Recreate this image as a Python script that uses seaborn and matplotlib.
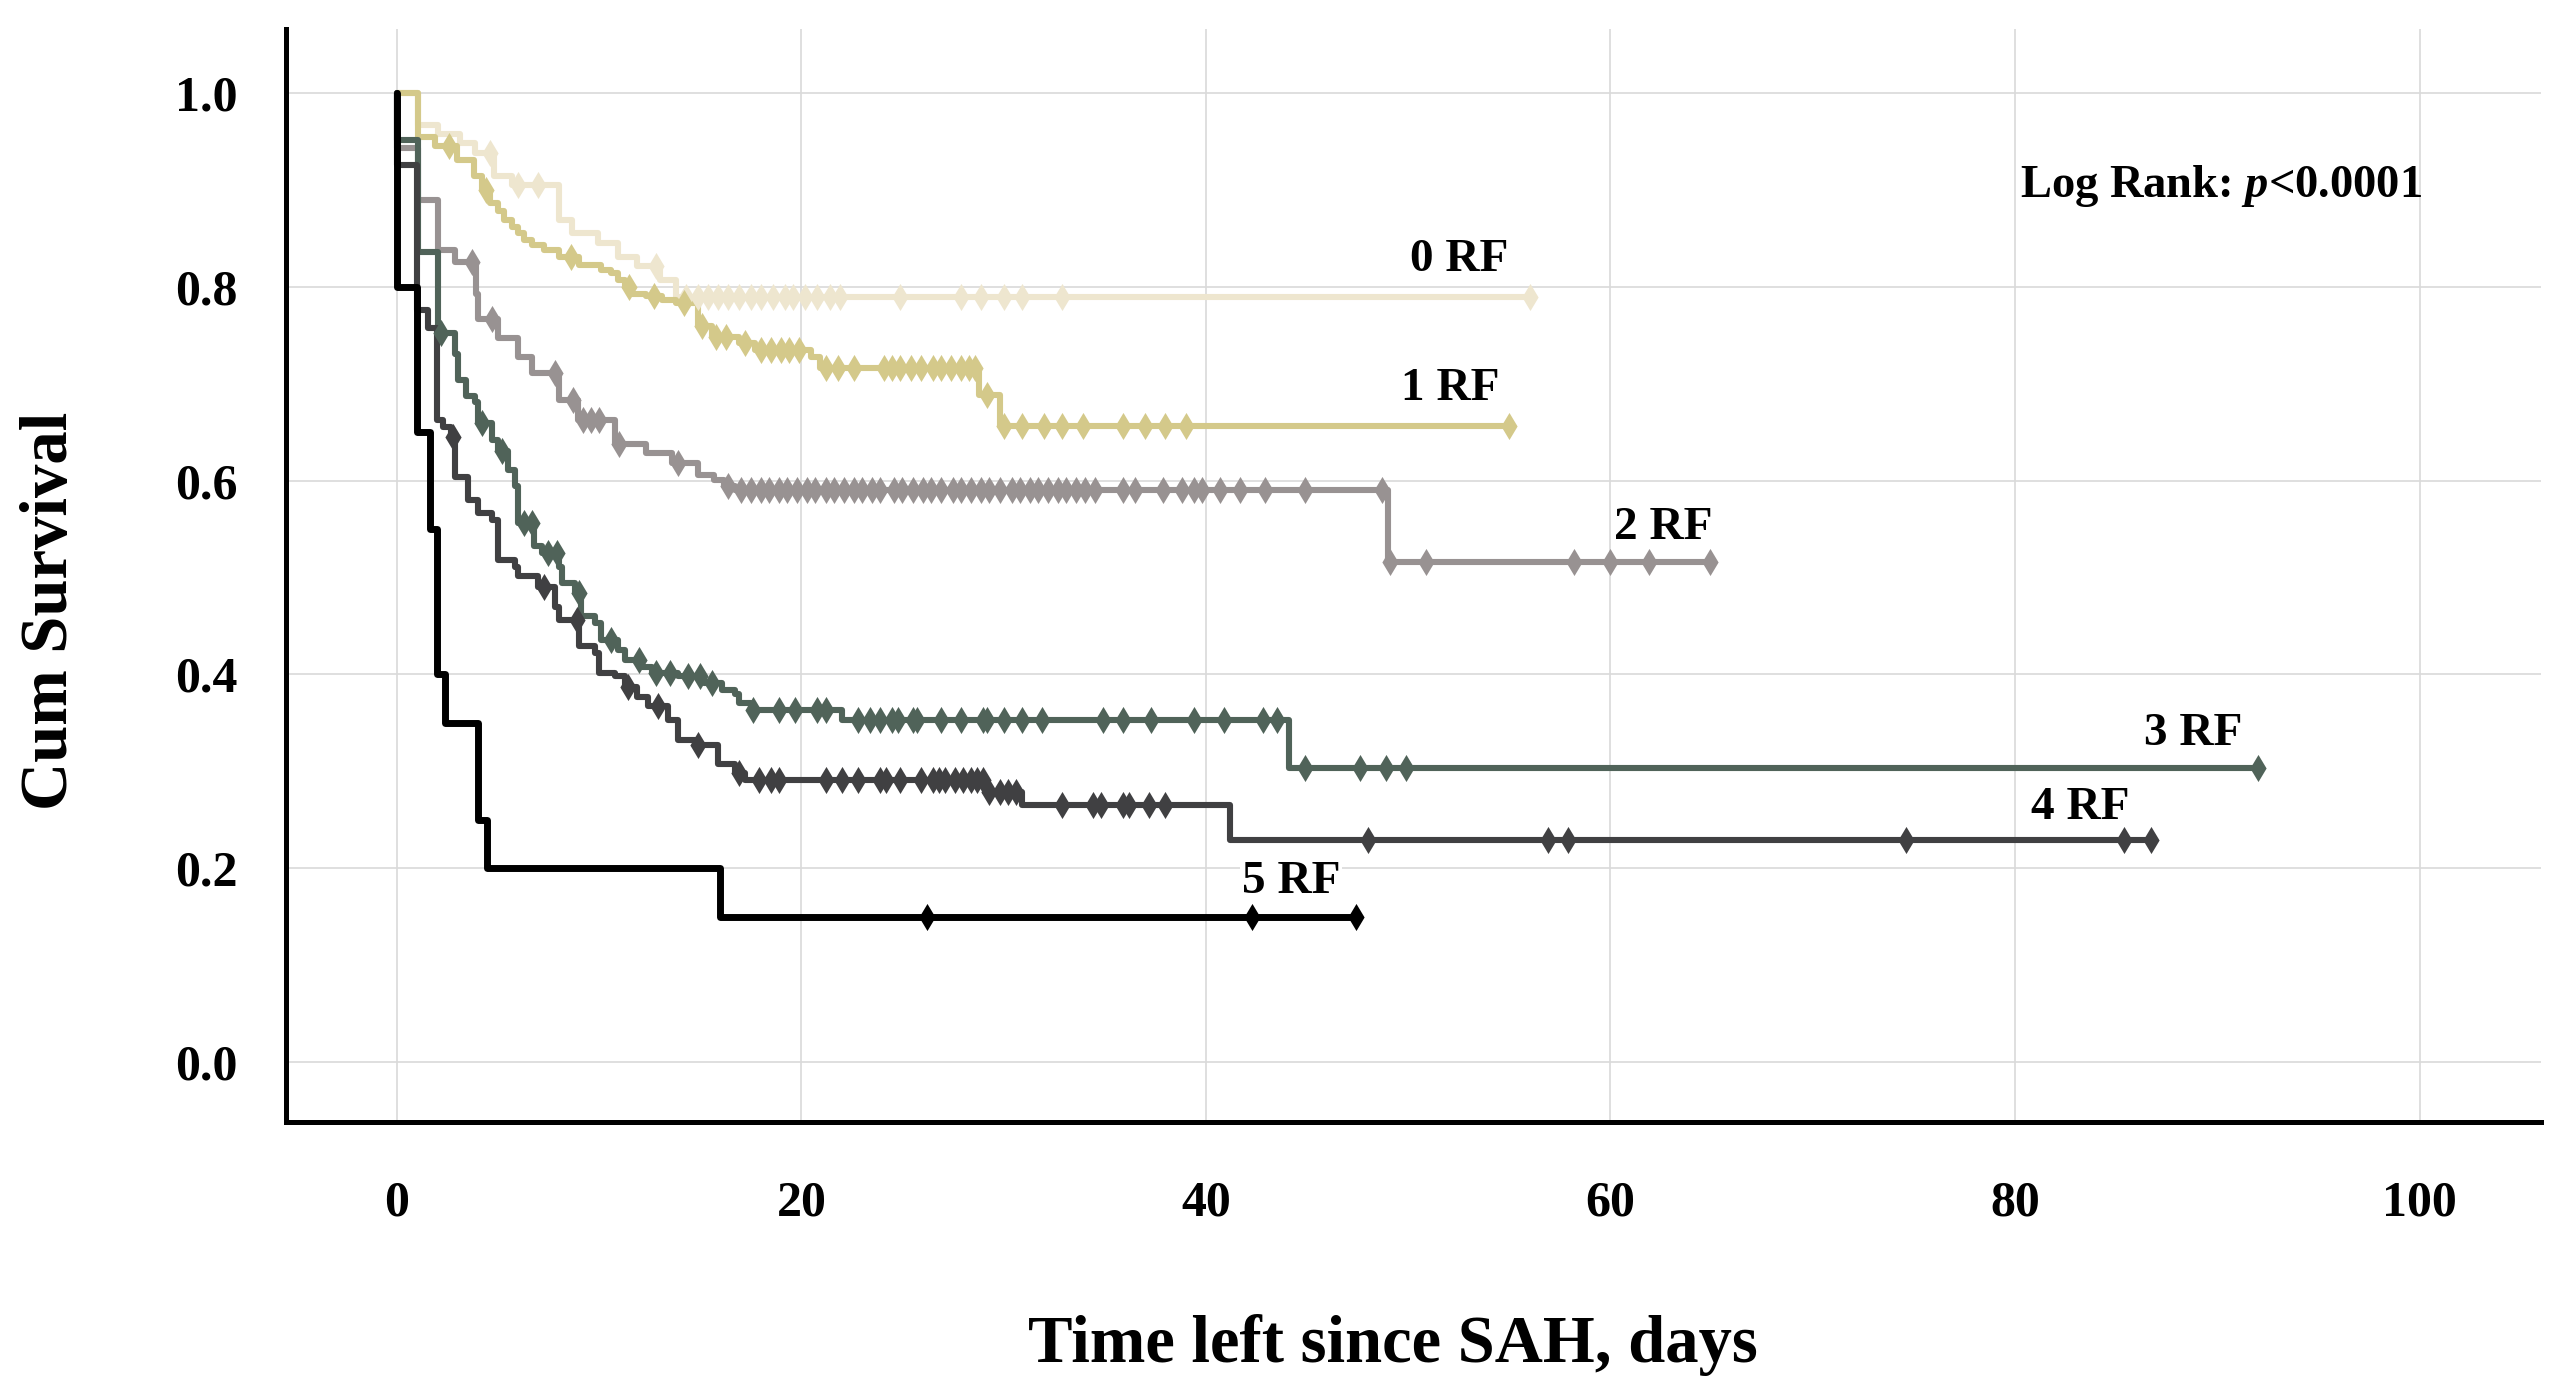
import numpy as np
import pandas as pd
import matplotlib
matplotlib.use("Agg")
import matplotlib.pyplot as plt
import seaborn as sns

# -------------------- DATA --------------------
groups = ["0 RF", "1 RF", "2 RF", "3 RF", "4 RF", "5 RF"]

# event times (days) and survival after each step
t0 = [0, 1.07, 2.06, 3.13, 3.87, 4.8, 5.7, 8.0, 8.65, 9.97, 10.96, 11.9, 13.0, 13.8]
s0 = [1.0, 0.967, 0.958, 0.948, 0.938, 0.914, 0.905, 0.869, 0.855, 0.845, 0.831, 0.821, 0.807, 0.789]
c0 = [4.6, 6.0, 7.0, 12.8, 14.3, 14.9, 15.4, 15.9, 16.4, 16.9, 17.5, 18.0, 18.6, 19.2, 19.6,
      20.2, 20.8, 21.4, 21.9, 24.9, 27.9, 28.9, 30.0, 30.9, 32.9, 56.0]

t1 = [0, 1.07, 1.9, 2.97, 3.8, 4.2, 4.6, 5.0, 5.3, 5.7, 6.0, 6.3, 6.7, 7.3, 8.0, 9.0, 10.1,
      10.6, 10.95, 11.3, 11.6, 12.3, 13.1, 13.8, 14.9, 15.6, 16.9, 17.7, 20.5, 20.9, 28.8, 29.8]
s1 = [1.0, 0.955, 0.945, 0.931, 0.914, 0.900, 0.886, 0.878, 0.869, 0.862, 0.855, 0.848, 0.843,
      0.838, 0.831, 0.822, 0.817, 0.814, 0.807, 0.800, 0.793, 0.790, 0.786, 0.783, 0.759, 0.748,
      0.742, 0.735, 0.728, 0.716, 0.688, 0.656]
c1 = [2.6, 4.4, 8.6, 11.5, 12.7, 14.2, 15.1, 15.8, 16.3, 17.2, 18.0, 18.5, 19.0, 19.4, 19.9,
      21.2, 21.8, 22.6, 24.1, 24.5, 24.9, 25.4, 25.9, 26.5, 26.9, 27.4, 27.9, 28.3, 28.6, 29.2,
      30.0, 30.9, 32.0, 32.9, 33.9, 35.9, 37.0, 38.0, 39.0, 55.0]

t2 = [0, 0, 1.07, 2.06, 2.9, 3.9, 4.04, 5.02, 6.0, 6.67, 8.0, 8.98, 10.8, 12.3, 13.6, 14.9,
      15.7, 16.2, 16.7, 49.0]
s2 = [1.0, 0.943, 0.890, 0.838, 0.826, 0.793, 0.767, 0.747, 0.728, 0.711, 0.683, 0.663, 0.638,
      0.628, 0.618, 0.606, 0.601, 0.594, 0.590, 0.516]
c2 = [3.7, 4.7, 7.8, 8.7, 9.2, 9.6, 10.0, 11.0, 13.9, 16.4, 17.0, 17.5, 18.0, 18.4, 18.9, 19.3,
      19.8, 20.3, 20.7, 21.2, 21.6, 22.1, 22.6, 23.0, 23.5, 23.9, 24.6, 25.0, 25.5, 26.0, 26.4,
      26.9, 27.5, 27.9, 28.4, 28.9, 29.3, 29.8, 30.4, 30.8, 31.3, 31.7, 32.2, 32.7, 33.1, 33.6,
      34.0, 34.5, 35.9, 36.5, 37.9, 38.8, 39.4, 39.8, 40.7, 41.7, 42.9, 44.9, 48.7, 49.1, 50.9,
      58.2, 60.0, 61.9, 64.9]

t3 = [0, 0, 1.07, 2.06, 2.9, 3.05, 3.4, 3.87, 4.04, 4.7, 5.0, 5.5, 5.85, 6.0, 6.8, 7.2, 8.0,
      8.15, 8.8, 9.1, 9.8, 10.1, 10.96, 11.3, 12.1, 12.6, 13.9, 15.2, 16.1, 16.7, 16.9, 17.5,
      22.0, 44.1]
s3 = [1.0, 0.951, 0.836, 0.752, 0.731, 0.704, 0.687, 0.681, 0.659, 0.642, 0.631, 0.611, 0.594,
      0.556, 0.532, 0.525, 0.511, 0.494, 0.484, 0.460, 0.453, 0.435, 0.425, 0.415, 0.408, 0.401,
      0.398, 0.391, 0.384, 0.380, 0.370, 0.363, 0.353, 0.303]
c3 = [2.2, 4.2, 5.2, 6.3, 6.7, 7.5, 7.9, 9.0, 10.6, 12.0, 12.8, 13.5, 14.4, 15.0, 15.6, 17.6,
      18.9, 19.7, 20.8, 21.2, 22.8, 23.4, 23.9, 24.5, 24.8, 25.5, 25.7, 26.9, 27.9, 29.0, 29.2,
      30.0, 30.9, 31.9, 34.9, 35.9, 37.3, 39.4, 40.9, 42.8, 43.5, 44.9, 47.6, 48.9, 49.9, 92.0]

t4 = [0, 0, 1.0, 1.57, 1.98, 2.3, 2.7, 2.9, 3.54, 4.04, 4.7, 5.02, 5.85, 6.0, 7.0, 7.8, 8.0,
      9.0, 9.8, 10.0, 10.8, 11.3, 11.9, 12.4, 13.4, 13.9, 14.9, 15.9, 16.7, 17.2, 29.1, 30.9, 41.2]
s4 = [1.0, 0.926, 0.776, 0.757, 0.662, 0.655, 0.645, 0.604, 0.580, 0.566, 0.559, 0.518, 0.511,
      0.501, 0.490, 0.470, 0.456, 0.429, 0.422, 0.401, 0.398, 0.387, 0.377, 0.367, 0.353, 0.332,
      0.327, 0.308, 0.298, 0.291, 0.279, 0.265, 0.229]
c4 = [2.8, 7.3, 8.9, 11.45, 12.9, 14.9, 16.9, 17.9, 18.5, 18.9, 21.2, 22.0, 22.8, 23.9, 24.2,
      24.9, 25.9, 26.5, 26.8, 27.1, 27.6, 28.0, 28.4, 28.7, 29.0, 29.3, 29.8, 30.2, 30.6, 32.9,
      34.4, 34.8, 35.9, 36.2, 37.2, 38.0, 48.0, 56.9, 57.9, 74.6, 85.4, 86.7]

t5 = [0, 0, 1.0, 1.65, 2.0, 2.4, 4.0, 4.45, 16.0]
s5 = [1.0, 0.80, 0.65, 0.55, 0.40, 0.35, 0.25, 0.20, 0.15]
c5 = [26.2, 42.3, 47.4]

label_x = [52.5, 52.1, 62.6, 88.8, 83.2, 44.2]
label_y = [0.828, 0.694, 0.551, 0.338, 0.262, 0.186]

colors = {"0 RF": "#EEE6CF", "1 RF": "#D4C98A", "2 RF": "#989292",
          "3 RF": "#506359", "4 RF": "#404042", "5 RF": "#000000"}

# -------------------- BUILD TABLES --------------------
curves = list(zip(groups, [t0, t1, t2, t3, t4, t5], [s0, s1, s2, s3, s4, s5],
                  [c0, c1, c2, c3, c4, c5]))

line_rows = []
cens_rows = []
for g, t, s, c in curves:
    end = max(c)
    for ti, si in zip(t + [end], s + [s[-1]]):
        line_rows.append((g, ti, si))
    t_arr = np.array(t)
    for ci in c:
        idx = np.searchsorted(t_arr, ci, side="right") - 1
        cens_rows.append((g, ci, s[idx]))

lines = pd.DataFrame(line_rows, columns=["group", "time", "surv"])
cens = pd.DataFrame(cens_rows, columns=["group", "time", "surv"])

# -------------------- PLOT --------------------
sns.set_theme(style="whitegrid")
plt.rcParams["font.family"] = ["Liberation Serif", "DejaVu Serif"]
plt.rcParams["text.color"] = "black"
plt.rcParams["axes.labelcolor"] = "black"
plt.rcParams["mathtext.fontset"] = "custom"
plt.rcParams["mathtext.rm"] = "Liberation Serif:bold"
plt.rcParams["mathtext.it"] = "Liberation Serif:bold:italic"

fig = plt.figure(figsize=(25.52, 13.93), dpi=100)
ax = fig.add_axes([0.1121, 0.1945, 0.8836, 0.7847])

for g in groups:
    sub = lines[lines["group"] == g]
    sns.lineplot(data=sub, x="time", y="surv", color=colors[g], estimator=None, sort=False,
                 drawstyle="steps-post", linewidth=5.0 if g == "5 RF" else 4.4, ax=ax,
                 legend=False, zorder=3)
    csub = cens[cens["group"] == g]
    sns.scatterplot(data=csub, x="time", y="surv", color=colors[g], marker="d", s=190,
                    linewidth=0, ax=ax, legend=False, zorder=4)

for g, lx, ly in zip(groups, label_x, label_y):
    ax.text(lx, ly, g, fontsize=34, fontweight="bold", ha="center", va="center",
            color="black", bbox=dict(facecolor="white", edgecolor="none", pad=1), zorder=2)

ax.text(100.1, 0.9035, "Log Rank: $p$<0.0001", fontsize=33.5, fontweight="bold",
        ha="right", va="center", color="black")

ax.set_xlim(-5.47, 106)
ax.set_ylim(-0.062, 1.066)
ax.set_xticks([0, 20, 40, 60, 80, 100])
ax.set_yticks([0.0, 0.2, 0.4, 0.6, 0.8, 1.0])
ax.set_yticklabels(["0.0", "0.2", "0.4", "0.6", "0.8", "1.0"])
ax.tick_params(axis="both", length=0, labelsize=36, colors="black")
ax.tick_params(axis="y", pad=35)
ax.tick_params(axis="x", pad=42)
for lab in ax.get_xticklabels() + ax.get_yticklabels():
    lab.set_fontweight("bold")

ax.grid(True, color="#D9D9D9", linewidth=1.2)
ax.set_axisbelow(True)
ax.set_facecolor("white")
for side in ["top", "right"]:
    ax.spines[side].set_visible(False)
for side in ["left", "bottom"]:
    ax.spines[side].set_visible(True)
    ax.spines[side].set_color("black")
    ax.spines[side].set_linewidth(3.6)

ax.set_xlabel("Time left since SAH, days", fontsize=48, fontweight="bold", color="black")
ax.set_ylabel("Cum Survival", fontsize=48, fontweight="bold", color="black")
ax.xaxis.set_label_coords(0.491, -0.176)
ax.yaxis.set_label_coords(-0.091, 0.4675)

fig.savefig("out.png", dpi=100, facecolor="white")
